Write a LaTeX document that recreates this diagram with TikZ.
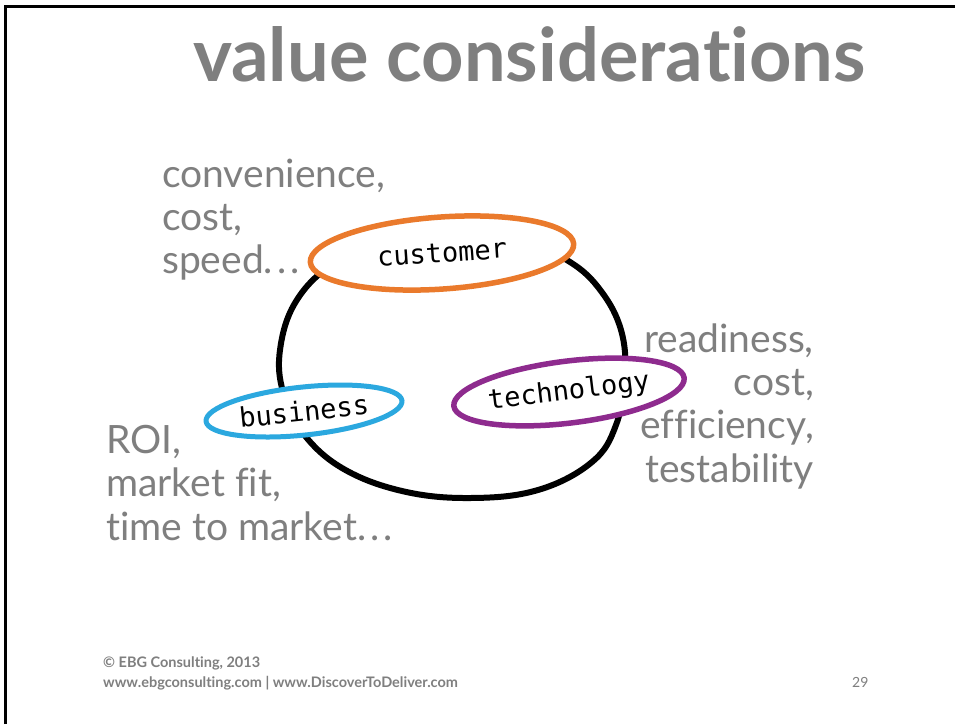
\documentclass[tikz,border=0pt]{standalone}
\usepackage{fontspec}
\setmainfont{Lato}[Ligatures={NoCommon}]
\newfontfamily\labelfont{DejaVu Sans Mono}
\usetikzlibrary{shapes.geometric}
\definecolor{txtgray}{HTML}{7F7F7F}
\definecolor{custorange}{HTML}{EA7A2C}
\definecolor{busblue}{HTML}{2BA8DF}
\definecolor{techpurple}{HTML}{8E2B8E}
\newcommand{\dotsx}{.\kern4pt.\kern4pt.}
\begin{document}
\begin{tikzpicture}[x=1pt,y=-1pt,
  body/.style={font=\fontsize{39}{43}\selectfont, text=txtgray, inner sep=0pt},
  title/.style={font=\fontsize{74}{80}\selectfont\bfseries, text=txtgray, inner sep=0pt},
  foot/.style={font=\fontsize{14.5}{16}\selectfont\bfseries, text=txtgray, inner sep=0pt},
  ring/.style={ellipse, fill=white, inner sep=0pt, line width=5.5pt,
     font=\labelfont\fontsize{27}{30}\selectfont, text=black},
  loop/.style={line width=6pt, black}
]
\useasboundingbox (0,0) rectangle (955,724);
\fill[white] (0,0) rectangle (955,724);
% slide border (top and left)
\draw[line width=2.5pt] (5.5,724) -- (5.5,6.5) -- (955,6.5);

% title
\node[title, anchor=base west] (t) at (193,81) {value considerations};

% central hand-drawn loop
\draw[loop] plot[smooth cycle, tension=0.65] coordinates {
  (330,266) (295,303) (280,350) (283,392) (302,432) (342,468) (402,491)
  (470,498) (538,490) (592,462) (616,425) (625,375) (621,330) (601,291)
  (570,262) (520,240) (450,234) (380,244)};

% ellipses
\node[ring, draw=custorange, minimum width=264pt, minimum height=72pt, rotate=4]
  (customer) at (442,253) {customer};
\node[ring, draw=busblue, minimum width=197pt, minimum height=48pt, rotate=6, line width=5pt]
  (business) at (304,411) {business};
\node[ring, draw=techpurple, minimum width=232pt, minimum height=62pt, rotate=7]
  (technology) at (569,392) {technology};

% customer considerations
\node[body, anchor=base west] (c1) at (162,187) {convenience,};
\node[body, anchor=base west] (c2) at (162,230) {cost,};
\node[body, anchor=base west] (c3) at (162,273) {speed\dotsx};

% technology considerations
\node[body, anchor=base east] (r1) at (814,352) {readiness,};
\node[body, anchor=base east] (r2) at (814,395) {cost,};
\node[body, anchor=base east] (r3) at (814,438) {efficiency,};
\node[body, anchor=base east] (r4) at (814,482) {testability};

% business considerations
\node[body, anchor=base west] (b1) at (106,453) {ROI,};
\node[body, anchor=base west] (b2) at (106,496) {market fit,};
\node[body, anchor=base west] (b3) at (106,540) {time to market\dotsx};

% footer
\node[foot, anchor=base west] (f1) at (103,667) {© EBG Consulting, 2013};
\node[foot, anchor=base west] (f2) at (103,687) {www.ebgconsulting.com | www.DiscoverToDeliver.com};
\node[foot, font=\fontsize{14}{16}\selectfont, anchor=base west] (pg) at (852,687) {29};
\end{tikzpicture}
\end{document}
